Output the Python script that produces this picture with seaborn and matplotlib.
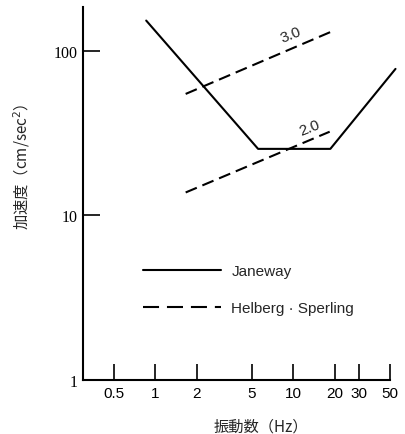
import numpy as np
import pandas as pd
import matplotlib
matplotlib.use("Agg")
import matplotlib.pyplot as plt
from matplotlib.lines import Line2D
import seaborn as sns

# Janeway comfort criterion (frequency Hz, acceleration cm/sec^2)
janeway_freq = [0.86, 5.55, 18.5, 54.8]
janeway_acc = [153, 25.4, 25.4, 77.8]

# Helberg-Sperling curves, labelled by index value
hs30_freq = [1.66, 18.8]
hs30_acc = [54.8, 131]
hs20_freq = [1.66, 18.3]
hs20_acc = [13.8, 32.3]
hs_labels = ["3.0", "2.0"]

x_ticks = [0.5, 1, 2, 5, 10, 20, 30, 50]
x_tick_labels = ["0.5", "1", "2", "5", "10", "20", "30", "50"]
y_ticks = [1, 10, 100]
y_tick_labels = ["1", "10", "100"]

legend_labels = ["Janeway", "Helberg \u00b7 Sperling"]

sns.set_style("ticks")
plt.rcParams["font.family"] = ["Liberation Sans", "Noto Sans CJK JP", "DejaVu Sans"]

fig = plt.figure(figsize=(4.06, 4.35), dpi=100)
ax = fig.add_axes([83 / 406, 54 / 435, 307 / 406, 373 / 435])

lw = 1.5
janeway = pd.DataFrame({"f": janeway_freq, "a": janeway_acc})
hs30 = pd.DataFrame({"f": hs30_freq, "a": hs30_acc})
hs20 = pd.DataFrame({"f": hs20_freq, "a": hs20_acc})

sns.lineplot(data=janeway, x="f", y="a", ax=ax, color="black", lw=lw,
             sort=False, estimator=None, clip_on=False)
for df in (hs30, hs20):
    sns.lineplot(data=df, x="f", y="a", ax=ax, color="black", lw=lw,
                 sort=False, estimator=None, dashes=False,
                 linestyle=(0, (5.8, 2.9)))

ax.set_xscale("log")
ax.set_yscale("log")
ax.set_xlim(0.3, 50)
ax.set_ylim(1, 185)

ax.xaxis.set_major_locator(matplotlib.ticker.FixedLocator(x_ticks))
ax.xaxis.set_minor_locator(matplotlib.ticker.NullLocator())
ax.set_xticklabels(x_tick_labels, fontsize=11, family="Liberation Sans")
ax.yaxis.set_major_locator(matplotlib.ticker.FixedLocator(y_ticks))
ax.yaxis.set_minor_locator(matplotlib.ticker.NullLocator())
ax.set_yticklabels(y_tick_labels, fontsize=11.5, family="Liberation Serif")

ax.tick_params(axis="x", direction="in", length=11.5, width=1.2, pad=4, colors="black")
ax.tick_params(axis="y", direction="in", length=12, width=1.2, pad=4, colors="black")

sns.despine(ax=ax)
for side in ("left", "bottom"):
    ax.spines[side].set_linewidth(1.5)
    ax.spines[side].set_color("black")

ax.set_xlabel("振動数（Hz）", fontsize=11, family=["Noto Sans CJK JP", "DejaVu Sans"], va="center")
ax.xaxis.set_label_coords(0.58, -0.123)
ax.set_ylabel("加速度（cm/sec$^2$）", fontsize=11, family=["Noto Sans CJK JP", "DejaVu Sans"], va="center")
ax.yaxis.set_label_coords(-0.199, 0.574)

# index labels sitting on the dashed curves
ax.text(9.5, 127, hs_labels[0], fontsize=11, rotation=22, ha="center", va="center")
ax.text(13.1, 34.5, hs_labels[1], fontsize=11, rotation=22, ha="center", va="center")

handles = [
    Line2D([], [], color="black", lw=lw),
    Line2D([], [], color="black", lw=lw, linestyle=(0, (7.7, 3.8))),
]
ax.legend(handles, legend_labels, loc="upper left", bbox_to_anchor=(0.195, 0.31),
          frameon=False, fontsize=11, handlelength=5.1, handletextpad=0.7,
          labelspacing=1.5, borderpad=0, borderaxespad=0)

fig.savefig("out.png", dpi=100)
